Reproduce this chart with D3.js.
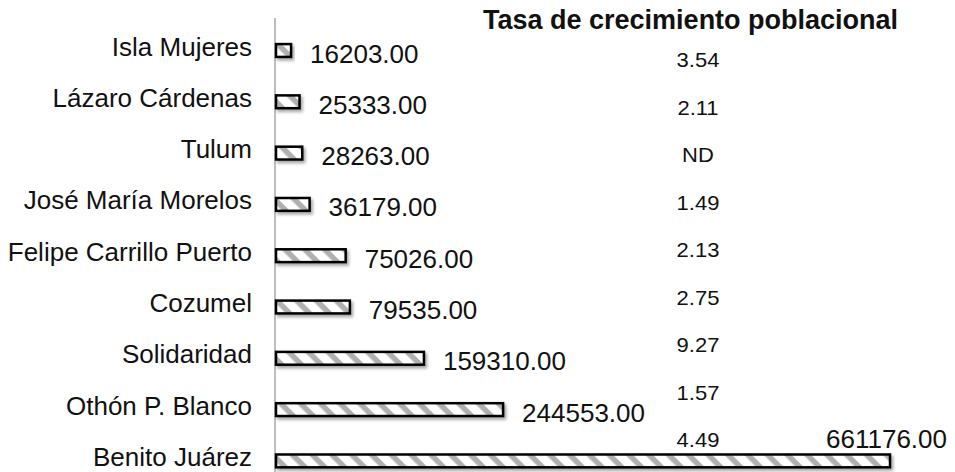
<!DOCTYPE html>
<html>
<head>
<meta charset="utf-8">
<script src="https://cdn.jsdelivr.net/npm/d3@7"></script>
<style>
  body { margin: 0; background: #fff; }
  text { font-family: "Liberation Sans", Arial, sans-serif; fill: #111; }
</style>
</head>
<body>
<script>
// municipios de Quintana Roo, de arriba a abajo
var municipios = ["Isla Mujeres", "Lázaro Cárdenas", "Tulum", "José María Morelos",
    "Felipe Carrillo Puerto", "Cozumel", "Solidaridad", "Othón P. Blanco", "Benito Juárez"];
var poblacion = [16203, 25333, 28263, 36179, 75026, 79535, 159310, 244553, 661176];
var tasa = ["3.54", "2.11", "ND", "1.49", "2.13", "2.75", "9.27", "1.57", "4.49"];
var titulo = "Tasa de crecimiento poblacional";

var W = 955, H = 472;

var svg = d3.select("body").append("svg")
    .attr("width", W)
    .attr("height", H);

var defs = svg.append("defs");

// rayado diagonal de las barras
var pat = defs.append("pattern")
    .attr("id", "rayas")
    .attr("patternUnits", "userSpaceOnUse")
    .attr("width", 14)
    .attr("height", 14)
    .attr("patternTransform", "rotate(45)");
pat.append("rect").attr("width", 14).attr("height", 14).attr("fill", "#fff");
pat.append("rect").attr("width", 14).attr("height", 5.5).attr("fill", "#b0b0b0");

var sombra = defs.append("filter")
    .attr("id", "sombra")
    .attr("x", "-10%").attr("y", "-50%")
    .attr("width", "130%").attr("height", "250%");
sombra.append("feDropShadow")
    .attr("dx", 2).attr("dy", 2.5)
    .attr("stdDeviation", 1.5)
    .attr("flood-color", "#000")
    .attr("flood-opacity", 0.35);

var x = d3.scaleLinear()
    .domain([0, d3.max(poblacion)])
    .range([276, 890]);

var y = d3.scaleBand()
    .domain(municipios)
    .range([24.85, 486.55])
    .paddingInner(0.75)
    .paddingOuter(0.375);

// columna de tasas (tabla aparte, no sigue exactamente a las barras)
var yTasa = d3.scalePoint()
    .domain(municipios)
    .range([67, 447]);

// eje vertical
svg.append("line")
    .attr("x1", 275).attr("x2", 275)
    .attr("y1", 18).attr("y2", H)
    .attr("stroke", "#a8a8a8")
    .attr("stroke-width", 1.5);

// barras
svg.append("g")
    .selectAll("rect")
    .data(municipios)
    .enter().append("rect")
    .attr("x", x(0))
    .attr("y", function (d) { return y(d); })
    .attr("width", function (d, i) { return x(poblacion[i]) - x(0); })
    .attr("height", y.bandwidth())
    .attr("fill", "url(#rayas)")
    .attr("stroke", "#000")
    .attr("stroke-width", 2.5)
    .attr("filter", "url(#sombra)");

// nombres de municipio
svg.append("g")
    .selectAll("text")
    .data(municipios)
    .enter().append("text")
    .attr("x", 252)
    .attr("y", function (d) { return y(d) + y.bandwidth() / 2 + 5; })
    .attr("text-anchor", "end")
    .style("font-size", "26px")
    .text(function (d) { return d; });

// valores de poblacion
svg.append("g")
    .selectAll("text")
    .data(municipios)
    .enter().append("text")
    .style("font-size", "26px")
    .each(function (d, i) {
        var t = d3.select(this);
        var cy = y(d) + y.bandwidth() / 2;
        var etiqueta = poblacion[i].toFixed(2);
        if (x(poblacion[i]) + 19 + 120 > W) {
            // no cabe a la derecha: se pone encima del final de la barra
            t.attr("x", W - 8).attr("y", cy - 13).attr("text-anchor", "end");
        } else {
            t.attr("x", x(poblacion[i]) + 19).attr("y", cy + 12);
        }
        t.text(etiqueta);
    });

// titulo de la columna de tasas
svg.append("text")
    .attr("x", 483)
    .attr("y", 29)
    .style("font-size", "27px")
    .style("font-weight", "bold")
    .text(titulo);

// tasas de crecimiento
svg.append("g")
    .selectAll("text")
    .data(municipios)
    .enter().append("text")
    .attr("transform", function (d) { return "translate(698," + yTasa(d) + ") scale(1.1,1)"; })
    .attr("text-anchor", "middle")
    .style("font-size", "20px")
    .text(function (d, i) { return tasa[i]; });
</script>
</body>
</html>
